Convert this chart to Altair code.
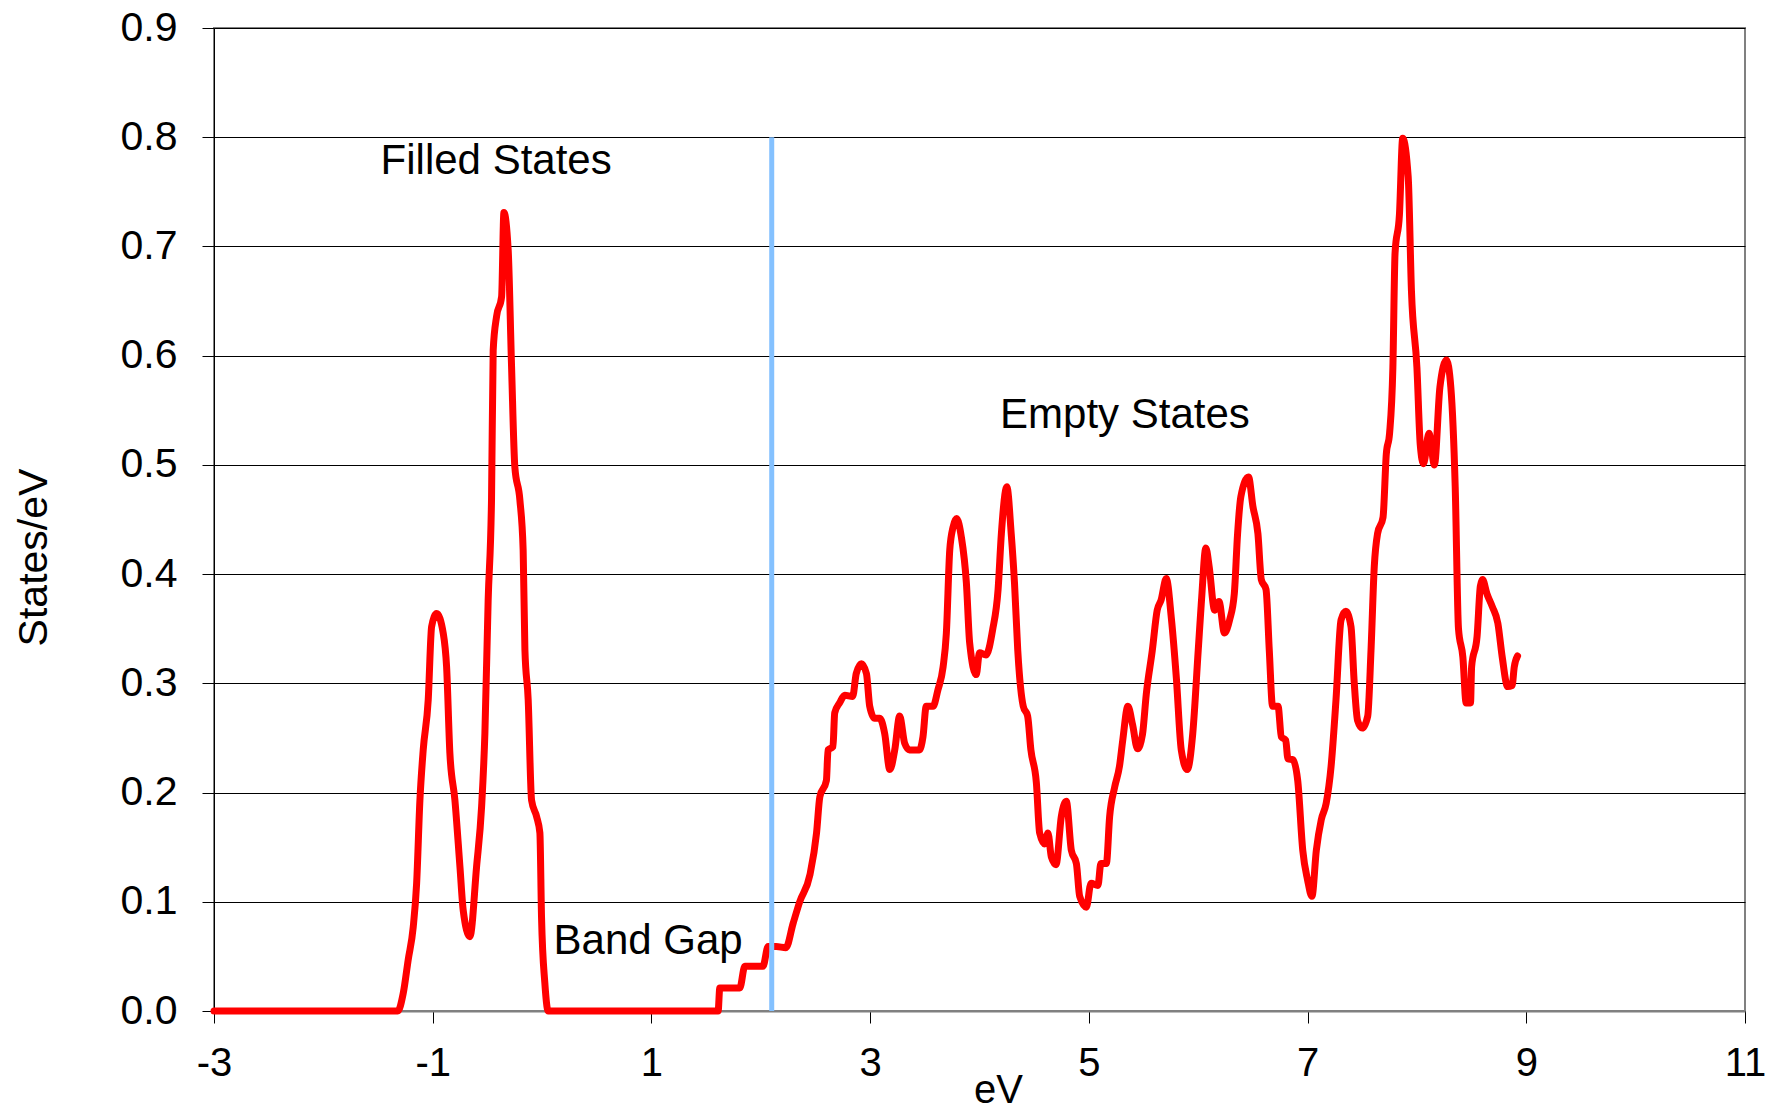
import altair as alt
import pandas as pd

# Density of states curve (eV, States/eV)
ev = [-3.0, -1.32, -1.27, -1.224, -1.178, -1.147, -1.117, -1.087, -1.041, -1.01,
      -0.964, -0.904, -0.873, -0.843, -0.797, -0.751, -0.721, -0.66, -0.599, -0.553,
      -0.523, -0.493, -0.462, -0.447, -0.416, -0.37, -0.349, -0.31, -0.279, -0.249,
      -0.203, -0.173, -0.157, -0.127, -0.096, -0.05, -0.02, -0.005, 0.025, 0.056,
      1.61, 1.625, 1.808, 1.854, 2.02, 2.067, 2.14, 2.23, 2.295, 2.356,
      2.45, 2.51, 2.54, 2.60, 2.615, 2.66, 2.676, 2.72, 2.768, 2.84,
      2.873, 2.92, 2.966, 2.996, 3.04, 3.088, 3.133, 3.18, 3.225, 3.27,
      3.316, 3.36, 3.45, 3.483, 3.513, 3.575, 3.62, 3.667, 3.697, 3.728,
      3.758, 3.79, 3.834, 3.88, 3.91, 3.97, 4.00, 4.06, 4.12, 4.17,
      4.2, 4.25, 4.29, 4.32, 4.35, 4.40, 4.44, 4.47, 4.52, 4.55,
      4.596, 4.626, 4.657, 4.70, 4.748, 4.794, 4.84, 4.886, 4.916, 4.977,
      5.02, 5.083, 5.11, 5.16, 5.19, 5.236, 5.28, 5.31, 5.357, 5.40,
      5.445, 5.49, 5.525, 5.58, 5.625, 5.66, 5.708, 5.754, 5.80, 5.845,
      5.90, 5.95, 6.0, 6.03, 6.07, 6.10, 6.15, 6.19, 6.24, 6.287,
      6.33, 6.36, 6.39, 6.46, 6.50, 6.546, 6.577, 6.62, 6.65, 6.68,
      6.73, 6.76, 6.80, 6.82, 6.866, 6.91, 6.956, 7.0, 7.04, 7.08,
      7.125, 7.17, 7.215, 7.26, 7.306, 7.35, 7.397, 7.427, 7.457, 7.50,
      7.55, 7.58, 7.61, 7.64, 7.69, 7.72, 7.75, 7.78, 7.80, 7.84,
      7.87, 7.92, 7.95, 8.00, 8.03, 8.06, 8.11, 8.16, 8.21, 8.27,
      8.31, 8.35, 8.38, 8.42, 8.45, 8.49, 8.50, 8.55, 8.58, 8.60,
      8.64, 8.69, 8.74, 8.78, 8.83, 8.87, 8.89, 8.92]
dos = [0.0, 0.0, 0.016, 0.047, 0.077, 0.117, 0.193, 0.239, 0.285, 0.352,
       0.364, 0.346, 0.315, 0.236, 0.193, 0.132, 0.092, 0.068, 0.132, 0.187,
       0.254, 0.376, 0.47, 0.605, 0.636, 0.654, 0.731, 0.697, 0.59, 0.498,
       0.468, 0.422, 0.331, 0.285, 0.193, 0.178, 0.163, 0.086, 0.026, 0.0,
       0.0, 0.021, 0.021, 0.041, 0.041, 0.059, 0.059, 0.058, 0.08, 0.10,
       0.125, 0.163, 0.196, 0.211, 0.239, 0.242, 0.273, 0.282, 0.289, 0.288,
       0.309, 0.318, 0.309, 0.279, 0.268, 0.268, 0.254, 0.221, 0.239, 0.27,
       0.245, 0.239, 0.239, 0.251, 0.279, 0.279, 0.294, 0.315, 0.346, 0.422,
       0.443, 0.451, 0.434, 0.392, 0.337, 0.308, 0.328, 0.326, 0.349, 0.386,
       0.437, 0.48, 0.437, 0.392, 0.33, 0.279, 0.27, 0.239, 0.209, 0.163,
       0.153, 0.163, 0.141, 0.134, 0.178, 0.192, 0.147, 0.135, 0.105, 0.095,
       0.117, 0.115, 0.135, 0.135, 0.178, 0.205, 0.224, 0.248, 0.279, 0.262,
       0.24, 0.253, 0.29, 0.33, 0.367, 0.376, 0.396, 0.36, 0.305, 0.239,
       0.221, 0.254, 0.33, 0.376, 0.424, 0.407, 0.367, 0.375, 0.346, 0.358,
       0.382, 0.437, 0.471, 0.489, 0.462, 0.437, 0.395, 0.386, 0.33, 0.279,
       0.279, 0.251, 0.248, 0.231, 0.23, 0.211, 0.147, 0.12, 0.105, 0.147,
       0.175, 0.19, 0.224, 0.285, 0.358, 0.366, 0.352, 0.30, 0.266, 0.259,
       0.27, 0.33, 0.407, 0.437, 0.452, 0.51, 0.529, 0.589, 0.694, 0.729,
       0.799, 0.764, 0.659, 0.589, 0.519, 0.501, 0.529, 0.50, 0.571, 0.596,
       0.571, 0.48, 0.35, 0.324, 0.282, 0.282, 0.315, 0.343, 0.389, 0.395,
       0.382, 0.37, 0.355, 0.324, 0.297, 0.298, 0.315, 0.325]

# Fermi-level marker
marker_x = [2.1]
marker_y0 = [0.0]
marker_y1 = [0.8]

# Annotations
label_text = ["Filled States", "Band Gap", "Empty States"]
label_x = [-0.42, 0.97, 5.33]
label_y = [0.778, 0.064, 0.5455]

x_ticks = [-3, -1, 1, 3, 5, 7, 9, 11]
y_ticks = [0.0, 0.1, 0.2, 0.3, 0.4, 0.5, 0.6, 0.7, 0.8, 0.9]

FONT = "Liberation Sans"

df = pd.DataFrame({"ev": ev, "dos": dos})
mk = pd.DataFrame({"x": marker_x, "y0": marker_y0, "y1": marker_y1})
lab = pd.DataFrame({"t": label_text, "x": label_x, "y": label_y})

xs = alt.Scale(domain=[-3, 11], nice=False, zero=False)
ys = alt.Scale(domain=[0, 0.9], nice=False, zero=False)

x_axis = alt.Axis(values=x_ticks, title="eV", grid=False, labelFontSize=40,
                  labelExpr="'' + datum.value",
                  labelFont=FONT, titleFont=FONT, titleFontSize=40,
                  titleFontWeight="normal", titleColor="black", labelColor="black",
                  tickSize=12, tickColor="black", tickWidth=1,
                  domainColor="#808080", domainWidth=2, labelPadding=20,
                  titleX=784, titleY=79, titleBaseline="middle", titleAnchor="start",
                  titleAlign="center", labelFlush=False)
y_axis = alt.Axis(values=y_ticks, format=".1f", title="States/eV", grid=True,
                  gridColor="black", gridWidth=1, labelFontSize=41, labelFont=FONT,
                  titleFont=FONT, titleFontSize=41, titleFontWeight="normal",
                  titleColor="black", labelColor="black", tickSize=12,
                  tickColor="black", tickWidth=1, domainColor="black", domainWidth=1,
                  labelPadding=25, titleX=-180, titleY=529, titleAlign="center",
                  titleBaseline="middle", titleAngle=270, labelFlush=False)

line = alt.Chart(df).mark_line(color="#FF0000", strokeWidth=7, strokeJoin="round",
                               strokeCap="round", interpolate="monotone").encode(
    x=alt.X("ev:Q", scale=xs, axis=x_axis),
    y=alt.Y("dos:Q", scale=ys, axis=y_axis),
)

rule = alt.Chart(mk).mark_rule(color="#84C1FF", strokeWidth=5).encode(
    x=alt.X("x:Q", scale=xs),
    y=alt.Y("y0:Q", scale=ys),
    y2="y1:Q",
)

texts = alt.Chart(lab).mark_text(font=FONT, fontSize=42, color="black",
                                 align="center", baseline="middle").encode(
    x=alt.X("x:Q", scale=xs),
    y=alt.Y("y:Q", scale=ys),
    text="t:N",
)

chart = alt.layer(line, rule, texts).properties(
    width=1531, height=983,
    autosize=alt.AutoSizeParams(type="none"),
    padding={"left": 214, "top": 28, "right": 20, "bottom": 100},
    background="white",
).configure_view(stroke="#808080", strokeWidth=2)

chart.save("out.html", embed_options={"renderer": "svg", "actions": False})
